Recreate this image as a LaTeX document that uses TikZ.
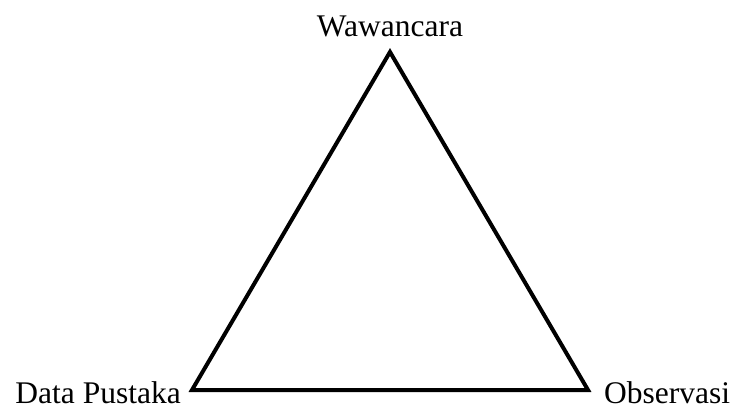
\documentclass[tikz,border=0pt]{standalone}
\usepackage{fontspec}
\setmainfont{Liberation Serif}
\begin{document}
\begin{tikzpicture}[x=1pt,y=-1pt,
  lbl/.style={inner sep=0pt, text depth=0pt, font=\fontsize{31.5}{36}\selectfont},
  edge/.style={line width=4pt}]
\useasboundingbox (0,0) rectangle (734,408);
\coordinate (top) at (390,52);
\coordinate (bl) at (192,390);
\coordinate (br) at (588,390);
\draw[edge] (top) -- (bl) -- (br) -- cycle;
\node[lbl, anchor=base] (w) at (390,36) {Wawancara};
\node[lbl, anchor=base east] (d) at (181,403) {Data Pustaka};
\node[lbl, anchor=base west] (o) at (604,403) {Observasi};
\end{tikzpicture}
\end{document}
